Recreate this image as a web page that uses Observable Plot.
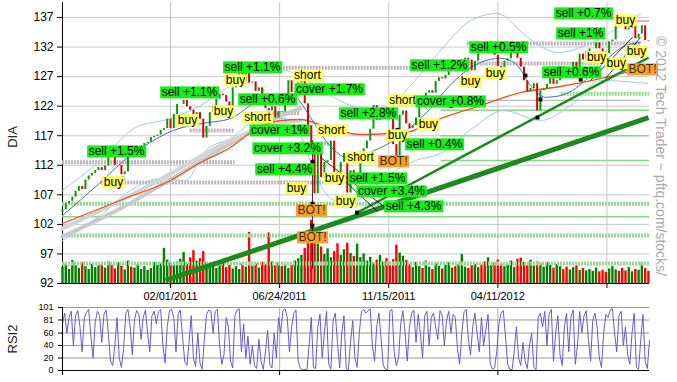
<!DOCTYPE html>
<html><head><meta charset="utf-8">
<script src="https://cdn.jsdelivr.net/npm/d3@7"></script>
<script src="https://cdn.jsdelivr.net/npm/@observablehq/plot@0.6"></script>
<style>
body{margin:0;background:#fff;}
#wrap{position:relative;width:677px;height:382px;overflow:hidden;font-family:"Liberation Sans",Arial,sans-serif;}
#wrap svg{position:absolute;left:0;}
.lbl{position:absolute;white-space:nowrap;transform:translate(-50%,-50%) rotate(-90deg);font-size:13px;color:#222;}
.copy{position:absolute;white-space:nowrap;transform:translate(-50%,-50%) rotate(90deg);font-size:14px;color:#aaa;}
</style></head><body><div id="wrap"></div>
<script>
// ---------- data ----------
const barStepDays = 3;           // each price bar = 3 trading days, day 0 = 2010-09-08
const rsiStepDays = 2;
const firstOpen = 104.0;
const closes = [104.5,105.5,105.9,106.6,107.6,108.4,107.9,109.5,110.2,110.6,111.1,111.6,111.1,111.9,113.8,113.5,112.0,112.0,110.4,110.9,
113.6,113.3,114.2,114.6,114.8,115.7,115.9,116.7,116.9,117.1,117.9,118.2,119.8,118.2,120.6,122.3,122.3,123.0,121.9,121.3,
120.6,120.9,119.8,116.6,118.6,120.9,122.0,123.2,124.0,123.8,122.7,121.6,125.1,126.9,128.1,126.0,127.6,125.9,126.1,124.5,
125.1,122.9,121.6,121.2,121.9,120.0,121.1,121.0,124.1,126.3,124.3,124.4,125.9,126.8,122.4,118.7,114.4,107.2,114.8,109.9,
112.5,112.8,116.1,110.8,109.9,112.5,114.0,107.3,111.1,109.1,109.4,114.3,114.8,116.1,118.1,122.1,119.6,120.4,121.7,121.5,
119.9,115.5,112.3,120.5,121.2,119.0,118.2,118.7,120.0,122.9,122.2,124.2,124.6,124.2,126.2,126.8,126.6,127.2,128.5,128.9,
128.8,129.5,129.8,130.1,129.8,128.0,129.6,132.0,131.7,131.3,131.3,132.6,130.6,128.7,128.5,129.6,130.0,132.3,132.7,130.1,
128.6,126.3,124.4,125.0,125.8,121.2,124.6,124.9,125.7,128.4,125.7,126.3,128.7,127.7,127.0,127.3,129.4,126.7,130.8,129.8,
131.2,131.7,131.7,132.7,131.7,131.2,130.9,132.9,133.2,135.9,135.8,135.5,134.9,135.2,136.1,133.4,134.2,135.6,133.1,133.0];
const volumes = [3.5,4.2,3.0,4.9,3.8,3.2,4.4,3.6,3.0,4.1,3.4,3.8,
4.0,3.3,4.6,3.9,3.1,4.4,3.7,2.9,4.8,3.5,3.3,4.1,3.0,3.6,2.8,3.2,4.5,3.9,
4.2,7.5,5.0,4.4,
3.8,4.6,5.2,6.6,4.1,5.5,7.0,4.8,5.3,6.8,
4.5,3.6,4.0,3.2,3.8,4.3,3.4,3.9,3.1,3.6,3.0,4.2,3.5,10.9,
3.7,4.2,3.3,4.5,4.0,10.8,4.6,3.8,4.4,3.6,4.1,3.2,3.9,4.8,5.3,
6.0,7.5,9.5,13.5,11.0,8.4,7.8,
6.2,7.4,5.5,6.8,8.5,6.0,7.2,8.6,6.4,5.8,8.4,
5.5,6.3,4.8,5.6,4.2,5.0,6.0,4.6,5.3,4.4,5.1,8.2,6.5,5.8,4.9,
4.0,3.4,4.5,3.6,3.2,4.8,3.5,3.0,4.2,3.7,3.1,3.9,4.4,3.3,3.6,4.0,6.2,3.5,3.2,3.8,
4.1,3.4,3.9,4.6,5.5,3.8,4.4,5.0,4.2,3.6,3.9,4.8,3.4,5.2,5.4,
4.5,3.8,5.0,3.7,4.6,4.2,3.5,4.4,3.9,3.3,4.1,3.6,3.0,3.5,2.9,3.4,3.8,2.8,3.2,2.7,
3.0,2.6,3.3,2.5,2.8,2.4,3.1,3.6,2.9,2.6,3.2,2.7,3.4,2.5,3.0,2.8,4.5,3.2,2.6];
const rsi2 = [75,92,60,85,95,40,88,96,70,30, 85,93,98,55,20,78,95,88,45,90, 97,60,15,8,40,85,20,5,35,92,
98,70,25,82,96,90,50,85,97,60, 30,88,95,75,94,98,40,12,70,96, 98,85,30,90,97,55,15,8,45,88,
20,6,60,12,2,50,90,97,95,60, 95,98,40,10,25,85,70,15,4,88, 97,99,30,75,20,55,10,40,8,3,
50,15,2,30,65,10,4,60,20,85, 60,96,99,85,30,70,92,97,15,3, 1,2,1,40,85,5,3,70,90,20,
60,95,10,2,80,92,45,4,60,88, 3,1,45,80,20,5,60,95,98,92, 96,99,40,15,70,92,50,8,2,1,
95,98,30,8,20,75,96,60,15,70, 92,97,45,90,60,20,88,95,40,85, 92,70,50,96,88,40,80,95,60,90,
85,35,10,60,94,98,50,25,70,92, 60,30,85,40,65,90,12,2,4,30, 75,92,96,55,10,2,1,30,70,20,
8,45,15,3,40,60,5,1,85,92, 70,95,40,90,98,15,60,88,25,8, 70,92,30,85,97,10,40,95,60,88,
96,50,15,80,92,70,20,5,60,90, 85,97,99,60,30,88,95,40,70,25, 10,60,92,5,2,50,90,15,3,48];

const xTickDays = [99,199,299,399,499];
const xTickLabels = ["02/01/2011","06/24/2011","11/15/2011","04/11/2012",""];
const priceTicks = [92,97,102,107,112,117,122,127,132,137];
const rsiTicks = [0,20,40,60,81,101];
const rsiXTicks = [0,199,399];

// indicator lines, [trading day, price]
const blueMA = [[0,103.5],[34.8,109.1],[59.6,113.3],[80.7,115.9],[101.7,117.9],[129.2,119.1],[154,119.9],[172.3,122.1],[190.6,123.8],[209,124.1],[227.3,120.1],[241.1,116.2],[254.8,113.7],[268.6,112.8],[282.3,114.2],[296.1,115.4],[309.8,117.0],[323.6,119.2],[337.3,121.6],[351,124.7],[364.8,127.2],[383.1,129.4],[401.5,130.1],[415.2,129.2],[429,125.5],[442.7,123.5],[456.5,123.8],[470.2,125.0],[484,127.2],[497.7,129.7],[511.4,131.8],[529.8,132.8]];
const orangeMA = [[0,102.15],[59.6,106.55],[99,109.43],[126.5,112.47],[154,115.01],[175.1,117.88],[199.8,119.58],[218.1,119.75],[245.6,118.23],[273.1,117.21],[300.6,117.38],[319,117.72],[337.3,119.24],[383.1,122.11],[419.8,124.31],[456.5,125.33],[493.1,126.68],[529.8,128.37]];
const grayMA1 = [[0,99.95],[53.2,104.69],[94.4,109.09],[154,115.68],[190.6,119.58],[218.1,121.61]];
const grayMA2 = [[0,101.3],[53.2,106.04],[94.4,110.1],[154,116.19],[190.6,118.9],[218.1,119.58]];
const upperBand = [[0,107.73],[34.8,112.81],[66.9,118.39],[99,119.91],[126.5,122.11],[154,125.5],[181.5,128.37],[204.4,128.03],[227.3,126.0],[245.6,123.81],[264,122.11],[282.3,121.27],[300.6,122.11],[319,125.5],[346.5,131.42],[374,136.49],[398.7,137.68],[426.2,133.62],[453.7,131.08],[479.4,132.26],[505,134.8],[529.8,137.68]];
const lowerBand = [[0,99.27],[34.8,103.5],[62.3,107.73],[89.8,109.76],[112.7,109.43],[131.1,114.5],[154,116.53],[181.5,119.91],[204.4,119.91],[218.1,117.04],[231.9,110.27],[250.2,106.04],[268.6,106.04],[286.9,108.58],[305.2,111.12],[323.6,112.81],[346.5,113.99],[376.7,118.39],[404.2,121.27],[438.1,119.58],[465.6,122.11],[493.1,126.34],[536.2,125.84]];

// support / resistance levels: [price, from day, to day]
const grayLevels = [[112.5,0,158],[109.1,35,245],[117.9,117,158],[128.5,172,365],[120.8,177,218],[115.7,218,246],[132.6,371,530],[129.2,347,493]];
const greenDotLevels = [[105.5,0,538],[100.1,0,538],[95.4,0,538],[124.1,457,538]];
const greenLineLevels = [[103.3,0,538],[121.3,347,538],[117.0,347,538],[112.8,347,538]];
const grayThinLevels = [[123.0,330,530]];
const redLevels = [[136.4,516,538]];

// trend lines: [day1, price1, day2, price2]
const trendThick = [[94.4,92.51,537.1,120.08]];
const trendThin = [[268.5,103.84,537.1,130.23]];
const arrowLines = [[229.1,116.2,229.1,94.5],[236.5,113.32,296.9,104.69],[483.9,126.34,522.4,133.62],[497.7,126.68,529.8,133.62],[254.8,110.0,288.7,104.2]];
const markerPts = [[55,109.76],[475,126.5],[424.3,127.19],[438.1,123.13],[435.3,120.08],[229.1,112.6],[229.1,105.5],[229.1,101.8],[307,118.0],[356,122.0],[270,104.0]];

// trade signals
const signalText = ["sell +1.5%","buy","sell +1.1%","buy","buy","buy","sell +1.1%","sell +0.6%","short","cover +1%","short","cover +1.7%","short","cover +3.2%","sell +4.4%","buy","BOT!","BOT!","buy","short","sell +1.5%","cover +3.4%","buy","sell +4.3%","sell +2.8%","short","cover +0.8%","buy","buy","BOT!","sell +0.4%","sell +1.2%","buy","sell +0.5%","buy","sell +0.6%","sell +1%","sell +0.7%","buy","buy","buy","buy","BOT!"];
const signalKind = ["g","y","g","y","y","y","g","g","y","g","y","g","y","g","g","y","o","o","y","y","g","g","y","g","g","y","g","y","y","o","g","g","y","g","y","g","g","g","y","y","y","y","o"];
const signalDay = [49.5,46.7,116.4,114.6,147.6,158.6,174.1,187.9,178.7,198.9,224.5,244.7,246.5,206.2,203.5,214.5,228.2,229.1,249.3,273.1,288.7,301.5,259.4,321.7,280.4,311.6,355.6,307.0,335.4,303.4,340.9,345.5,373.9,399.6,396.8,466.5,474.8,477.5,516.0,489.5,507.5,526.1,531.6];
const signalPrice = [114.33,109.09,124.31,119.58,121.10,126.34,128.54,123.13,120.08,117.88,127.19,124.82,117.88,114.84,111.29,108.07,104.35,99.78,109.76,113.32,109.76,107.56,105.87,105.03,120.76,122.96,122.79,117.04,118.90,112.64,115.52,128.88,126.17,131.93,127.53,127.70,134.29,137.68,136.49,130.23,129.22,131.25,128.20];

// ---------- build ----------
const bars = closes.map((c, i) => ({
  t: i * barStepDays,
  open: i ? closes[i - 1] : firstOpen,
  close: c,
  vol: volumes[i]
}));
bars.forEach(b => b.up = b.close >= b.open);
const rsiRows = rsi2.map((v, i) => ({t: i * rsiStepDays, v}));
const signals = signalText.map((s, i) => ({s, k: signalKind[i], t: signalDay[i], p: signalPrice[i]}));
const lv = a => a.map(([p, t1, t2]) => ({p, t1, t2}));
const seg = a => a.map(([t1, p1, t2, p2]) => ({t1, p1, t2, p2}));

const W = 677, H = 300;
const ML = 62, MR = 28, MT = 2, MB = 17;
const xDom = [0, 538], yDom = [92, 139.54];
const font = "'Liberation Sans', Arial, sans-serif";
const baseStyle = {background: "transparent", fontFamily: font, fontSize: "12px", color: "#000", overflow: "visible"};
const wrap = document.getElementById("wrap");

// layer A: grid and axes
const layerA = Plot.plot({
  width: W, height: H, marginLeft: ML, marginRight: MR, marginTop: MT, marginBottom: MB,
  style: baseStyle,
  x: {domain: xDom, ticks: xTickDays, tickFormat: d => xTickLabels[xTickDays.indexOf(d)], tickSize: 5, label: null},
  y: {domain: yDom, ticks: priceTicks, tickSize: 5, label: null},
  marks: [
    Plot.ruleX(xTickDays, {stroke: "#c8c8c8"}),
    Plot.ruleY(priceTicks.slice(1), {stroke: "#c8c8c8"}),
    Plot.ruleX([0], {stroke: "#000"}),
    Plot.ruleY([92], {stroke: "#000"})
  ]
});
layerA.style.top = "0px";
wrap.appendChild(layerA);
layerA.querySelectorAll('[aria-label^="x-axis"]').forEach(g => { g.setAttribute("font-size", "11"); g.style.fontSize = "11px"; });

// layer B: volume
const layerB = Plot.plot({
  width: W, height: H, marginLeft: ML, marginRight: MR, marginTop: MT, marginBottom: MB,
  style: baseStyle,
  color: {type: "identity"},
  x: {domain: xDom, axis: null},
  y: {domain: [0, 60], axis: null},
  marks: [
    Plot.ruleX(bars, {x: "t", y1: 0, y2: "vol", stroke: d => d.up ? "#008000" : "#ff0000", strokeWidth: 2.4})
  ]
});
layerB.style.top = "0px";
wrap.appendChild(layerB);

// layer C: price, indicators, signals
const ln = (data, stroke, w, extra = {}) => Plot.line(data, {x: d => d[0], y: d => d[1], stroke, strokeWidth: w, curve: "monotone-x", ...extra});
const layerC = Plot.plot({
  width: W, height: H, marginLeft: ML, marginRight: MR, marginTop: MT, marginBottom: MB,
  style: baseStyle,
  color: {type: "identity"},
  x: {domain: xDom, axis: null},
  y: {domain: yDom, axis: null},
  marks: [
    Plot.ruleY(lv(greenDotLevels), {y: "p", x1: "t1", x2: "t2", stroke: "#8fdc8f", strokeWidth: 4, strokeDasharray: "2 1"}),
    Plot.ruleY(lv(greenLineLevels), {y: "p", x1: "t1", x2: "t2", stroke: "#86d886", strokeWidth: 1.5}),
    Plot.ruleY(lv(grayThinLevels), {y: "p", x1: "t1", x2: "t2", stroke: "#aaaaaa", strokeWidth: 1}),
    Plot.ruleY(lv(grayLevels), {y: "p", x1: "t1", x2: "t2", stroke: "#bdb3bb", strokeWidth: 4, strokeDasharray: "2 1"}),
    Plot.ruleY(lv(redLevels), {y: "p", x1: "t1", x2: "t2", stroke: "#ff5050", strokeWidth: 1}),
    ln(upperBand, "#9dcbea", 1),
    ln(lowerBand, "#9dcbea", 1),
    ln(grayMA1, "#c9c9c9", 4),
    ln(grayMA2, "#d4d4d4", 4),
    ln(orangeMA, "#f2541f", 1.3),
    ln(blueMA, "#3f6fc0", 1),
    Plot.ruleX(bars, {x: "t", y1: "open", y2: "close", stroke: d => d.up ? "#0a9a0a" : "#dd0000", strokeWidth: 2}),
    Plot.link(seg(trendThick), {x1: "t1", y1: "p1", x2: "t2", y2: "p2", stroke: "#1d8a1d", strokeWidth: 5}),
    Plot.link(seg(trendThin), {x1: "t1", y1: "p1", x2: "t2", y2: "p2", stroke: "#1d8a1d", strokeWidth: 2.5}),
    Plot.link(seg(arrowLines), {x1: "t1", y1: "p1", x2: "t2", y2: "p2", stroke: "#000", strokeWidth: 0.8}),
    Plot.dot(markerPts, {x: d => d[0], y: d => d[1], r: 2.2, fill: "#000", symbol: "square"}),
    Plot.text(signals, {x: "t", y: "p", text: "s", fill: d => d.k === "o" ? "#333" : "#000", fontSize: 12})
  ]
});
layerC.style.top = "0px";
wrap.appendChild(layerC);

// boxes behind signal labels (layer C has no axes, so every text is a signal label)
const boxFill = {g: "#14ef14", y: "#ffff5c", o: "#ff9e22"};
const NS = "http://www.w3.org/2000/svg";
Array.from(layerC.querySelectorAll("text")).forEach((tx, i) => {
  const sig = signals[i];
  if (!sig || sig.s !== tx.textContent) return;
  const b = tx.getBBox();
  const r = document.createElementNS(NS, "rect");
  r.setAttribute("x", b.x - 1.5);
  r.setAttribute("y", b.y + 1);
  r.setAttribute("width", b.width + 3);
  r.setAttribute("height", Math.max(1, b.height - 2));
  r.setAttribute("fill", boxFill[sig.k]);
  if (tx.getAttribute("transform")) r.setAttribute("transform", tx.getAttribute("transform"));
  tx.parentNode.insertBefore(r, tx);
});

// RSI panel
const layerD = Plot.plot({
  width: W, height: 82, marginLeft: ML, marginRight: MR, marginTop: 7, marginBottom: 12,
  style: {...baseStyle, fontSize: "9px"},
  x: {domain: xDom, ticks: rsiXTicks, tickFormat: () => "", tickSize: 5, label: null},
  y: {domain: [0, 101], ticks: rsiTicks, tickSize: 4, label: null},
  marks: [
    Plot.ruleY(rsiTicks.slice(1), {stroke: "#9a9a9a"}),
    Plot.ruleX(rsiXTicks.slice(1), {stroke: "#b0b0b0"}),
    Plot.line(rsiRows, {x: "t", y: "v", stroke: "#6a5acd", strokeWidth: 1}),
    Plot.ruleX([0], {stroke: "#000"}),
    Plot.ruleY([0], {stroke: "#000"})
  ]
});
layerD.style.top = "300px";
wrap.appendChild(layerD);

// axis titles and copyright
const addDiv = (cls, txt, x, y) => { const d = document.createElement("div"); d.className = cls; d.textContent = txt; d.style.left = x + "px"; d.style.top = y + "px"; wrap.appendChild(d); };
addDiv("lbl", "DIA", 12, 137);
addDiv("lbl", "RSI2", 12, 339);
addDiv("copy", "© 2012 Tech Trader ~ pftq.com/stocks/", 661, 156);
</script></body></html>
